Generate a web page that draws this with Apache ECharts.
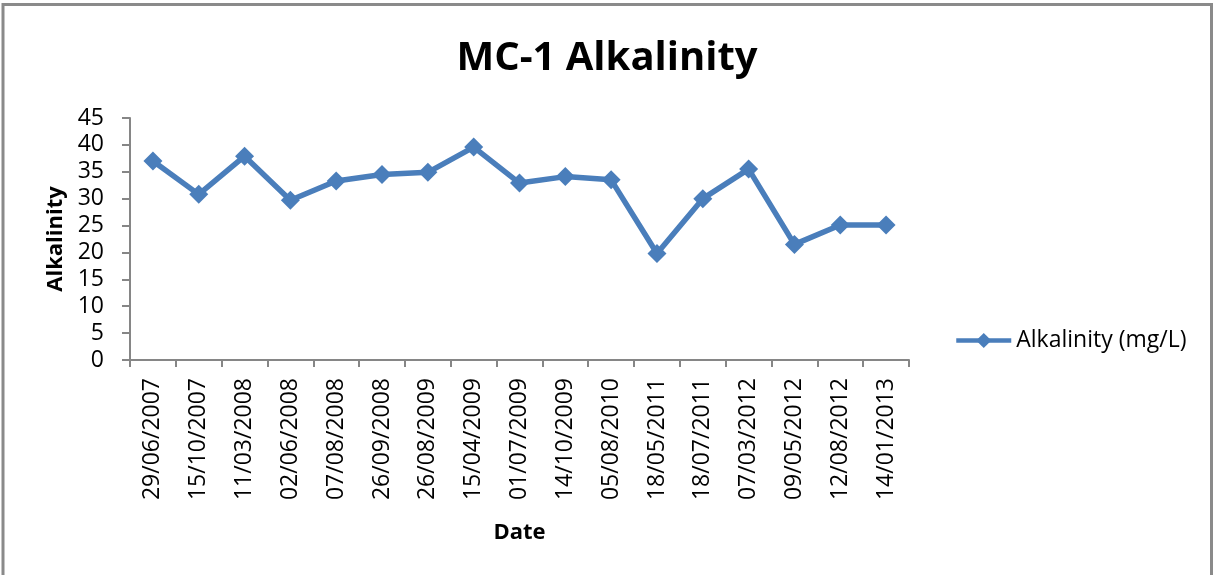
<!DOCTYPE html>
<html>
<head>
<meta charset="utf-8">
<script src="https://cdn.jsdelivr.net/npm/echarts@6/dist/echarts.min.js"></script>
<style>
html,body{margin:0;padding:0;background:#fff;}
#chart{width:1214px;height:575px;}
</style>
</head>
<body>
<div id="chart"></div>
<script>
const categories = ['29/06/2007','15/10/2007','11/03/2008','02/06/2008','07/08/2008','26/09/2008','26/08/2009','15/04/2009','01/07/2009','14/10/2009','05/08/2010','18/05/2011','18/07/2011','07/03/2012','09/05/2012','12/08/2012','14/01/2013'];
const alkalinity = [37, 30.8, 37.9, 29.7, 33.3, 34.5, 34.9, 39.6, 32.9, 34.1, 33.5, 19.8, 30, 35.5, 21.5, 25.1, 25.1];
const seriesName = 'Alkalinity (mg/L)';
const yTicks = { min: 0, max: 45, interval: 5 };

const FONT = 'Open Sans';
const chart = echarts.init(document.getElementById('chart'));
chart.setOption({
  backgroundColor: '#fff',
  animation: false,
  title: {
    text: 'MC-1 Alkalinity',
    left: 'center',
    top: 34,
    textStyle: { fontFamily: FONT, fontSize: 40, fontWeight: 'bold', color: '#000' }
  },
  legend: {
    left: 949,
    top: 324,
    itemWidth: 55,
    itemHeight: 19,
    itemGap: 4,
    lineStyle: { width: 4.5 },
    textStyle: { fontFamily: FONT, fontSize: 23, color: '#000' },
    data: [seriesName]
  },
  grid: { left: 130, right: 305, top: 118, bottom: 215 },
  xAxis: {
    type: 'category',
    data: categories,
    boundaryGap: true,
    name: 'Date',
    nameLocation: 'middle',
    nameGap: 162,
    nameTextStyle: { fontFamily: FONT, fontSize: 22, fontWeight: 'bold', color: '#000' },
    axisLine: { show: true, lineStyle: { color: '#868686', width: 2 } },
    axisTick: { show: true, length: 7, alignWithLabel: false, lineStyle: { color: '#868686', width: 2 } },
    axisLabel: { rotate: 90, margin: 18, fontFamily: FONT, fontSize: 23, color: '#000', interval: 0 },
    splitLine: { show: false }
  },
  yAxis: {
    type: 'value',
    min: yTicks.min,
    max: yTicks.max,
    interval: yTicks.interval,
    name: 'Alkalinity',
    nameLocation: 'middle',
    nameGap: 63,
    nameTextStyle: { fontFamily: FONT, fontSize: 22, fontWeight: 'bold', color: '#000' },
    axisLine: { show: true, lineStyle: { color: '#868686', width: 2 } },
    axisTick: { show: true, length: 8, lineStyle: { color: '#868686', width: 2 } },
    axisLabel: { margin: 26, fontFamily: FONT, fontSize: 23, color: '#000' },
    splitLine: { show: false }
  },
  graphic: [
    { type: 'polyline', silent: true, shape: { points: [[3, 575], [3, 4.5], [1211.5, 4.5], [1211.5, 575]] },
      style: { stroke: '#8a8a8a', lineWidth: 3, fill: null } }
  ],
  series: [{
    name: seriesName,
    type: 'line',
    data: alkalinity,
    symbol: 'diamond',
    symbolSize: 19,
    lineStyle: { color: '#4A7EBB', width: 5.5 },
    itemStyle: { color: '#4A7EBB' }
  }]
});
</script>
</body>
</html>
